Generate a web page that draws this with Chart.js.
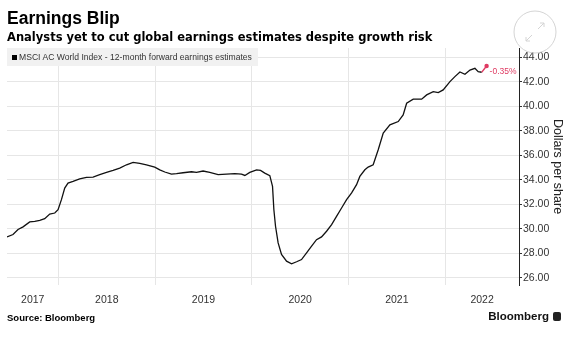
<!DOCTYPE html>
<html>
<head>
<meta charset="utf-8">
<script src="https://cdn.jsdelivr.net/npm/chart.js@4.4.0/dist/chart.umd.min.js"></script>
<style>
  html, body { margin: 0; padding: 0; background: #fff; }
  #wrap { position: relative; width: 577px; height: 337px; overflow: hidden; font-family: 'Liberation Sans', Arial, sans-serif; color: #000; }
  #chart { position: absolute; left: 0; top: 0; }
  .title { position: absolute; left: 7px; top: 10px; font-weight: bold; font-size: 17.5px; line-height: 17.5px; white-space: nowrap; }
  .subtitle { position: absolute; left: 7px; top: 32px; font-family: 'DejaVu Sans', sans-serif; font-weight: bold; font-size: 11.5px; line-height: 11.5px; white-space: nowrap; }
  .legend { position: absolute; left: 7px; top: 48px; width: 251px; height: 18px; background: #f1f1f1; font-size: 8.6px; line-height: 18px; color: #333; white-space: nowrap; }
  .legend i { display: inline-block; width: 5px; height: 5px; background: #000; margin: 0 2px 0 5px; vertical-align: 0; }
  .source { position: absolute; left: 7px; top: 312px; font-weight: bold; font-size: 9.5px; line-height: 12px; white-space: nowrap; }
  .brand { position: absolute; right: 28px; top: 309px; font-weight: bold; font-size: 11.5px; line-height: 14px; color: #111; white-space: nowrap; }
  .brand i { position: absolute; right: -12px; top: 3px; width: 8px; height: 9px; background: #222; border-radius: 2px; }
</style>
</head>
<body>
<div id="wrap">
  <canvas id="chart" width="577" height="337"></canvas>
  <div class="title">Earnings Blip</div>
  <div class="subtitle">Analysts yet to cut global earnings estimates despite growth risk</div>
  <div class="legend"><i></i>MSCI AC World Index - 12-month forward earnings estimates</div>
  <div class="source">Source: Bloomberg</div>
  <div class="brand">Bloomberg<i></i></div>
</div>
<script>
// dates as decimal years (weekly series)
const dates = [2017.468, 2017.530, 2017.582, 2017.634, 2017.703, 2017.755, 2017.807, 2017.858, 2017.910, 2017.962, 2017.996,
  2018.031, 2018.065, 2018.099, 2018.151, 2018.220, 2018.290, 2018.358, 2018.427, 2018.497, 2018.565, 2018.634, 2018.704, 2018.772, 2018.841, 2018.910, 2018.996,
  2019.048, 2019.100, 2019.169, 2019.221, 2019.289, 2019.376, 2019.428, 2019.496, 2019.565, 2019.651, 2019.738, 2019.824, 2019.893, 2019.928, 2019.979,
  2020.049, 2020.090, 2020.134, 2020.186, 2020.214, 2020.228, 2020.245, 2020.272, 2020.307, 2020.359, 2020.411, 2020.463, 2020.514, 2020.566, 2020.618, 2020.669, 2020.721, 2020.773, 2020.825, 2020.876, 2020.928, 2020.980,
  2021.032, 2021.083, 2021.117, 2021.169, 2021.203, 2021.255, 2021.307, 2021.359, 2021.428, 2021.514, 2021.565, 2021.601, 2021.669, 2021.756, 2021.808, 2021.876, 2021.928, 2021.979,
  2022.049, 2022.100, 2022.152, 2022.204, 2022.256, 2022.307, 2022.341, 2022.377, 2022.428];

const estimates = [29.33, 29.52, 29.93, 30.15, 30.55, 30.60, 30.68, 30.82, 31.20, 31.28, 31.55,
  32.37, 33.32, 33.73, 33.86, 34.06, 34.19, 34.22, 34.41, 34.60, 34.76, 34.95, 35.22, 35.41, 35.33, 35.22, 35.03,
  34.81, 34.63, 34.46, 34.49, 34.57, 34.65, 34.60, 34.71, 34.60, 34.41, 34.46, 34.49, 34.46, 34.35, 34.60,
  34.81, 34.76, 34.54, 34.33, 33.45, 31.55, 30.20, 28.84, 27.89, 27.35, 27.13, 27.30, 27.48, 28.03, 28.57, 29.10, 29.33, 29.79, 30.33, 31.01, 31.69, 32.37,
  32.92, 33.60, 34.27, 34.81, 35.03, 35.22, 36.45, 37.81, 38.48, 38.75, 39.30, 40.25, 40.58, 40.58, 40.93, 41.20, 41.12, 41.34,
  42.01, 42.42, 42.80, 42.61, 42.96, 43.10, 42.83, 42.78, 43.29];

const yearLabels = ['2017', '2018', '2019', '2020', '2021', '2022'];
const yTicks = [26, 27, 28, 29, 30, 31, 32, 33, 34, 35, 36, 37, 38, 39, 40, 41, 42, 43, 44];
const changeLabel = '-0.35%';

const xMin = 2017.468, xMax = 2022.763;
const yMin = 25.4, yMax = 44.76;

const RED = '#df3a62';
const GRID = '#e6e6e6';
const FONT = "'Liberation Sans', Arial, sans-serif";
const last = estimates.length - 1;

// red change label next to the last point + expand icon
const extras = {
  id: 'extras',
  afterDatasetsDraw(chart) {
    const ctx = chart.ctx;
    const pt = chart.getDatasetMeta(0).data[last];
    ctx.save();
    ctx.fillStyle = RED;
    ctx.font = '8.5px ' + FONT;
    ctx.textBaseline = 'middle';
    ctx.fillText(changeLabel, pt.x + 3, pt.y + 6);

    // expand icon top right
    ctx.strokeStyle = '#d4d4d4';
    ctx.lineWidth = 1;
    ctx.beginPath();
    ctx.arc(535, 32, 21, 0, Math.PI * 2);
    ctx.stroke();
    ctx.beginPath();
    ctx.moveTo(538, 29); ctx.lineTo(544, 23);
    ctx.moveTo(540, 23); ctx.lineTo(544, 23); ctx.lineTo(544, 27);
    ctx.moveTo(532, 35); ctx.lineTo(526, 41);
    ctx.moveTo(526, 37); ctx.lineTo(526, 41); ctx.lineTo(530, 41);
    ctx.stroke();
    ctx.restore();
  }
};

new Chart(document.getElementById('chart'), {
  type: 'line',
  data: {
    datasets: [{
      data: dates.map((d, i) => ({ x: d, y: estimates[i] })),
      borderColor: '#111',
      borderWidth: 1.3,
      tension: 0,
      pointRadius: ctx => ctx.dataIndex === last ? 2.2 : 0,
      pointBackgroundColor: RED,
      pointBorderWidth: 0,
      segment: {
        borderColor: ctx => ctx.p1DataIndex === last ? RED : undefined
      }
    }]
  },
  options: {
    responsive: false,
    animation: false,
    events: [],
    layout: { padding: { left: 7, top: 48, right: 0, bottom: 0 } },
    plugins: { legend: { display: false }, tooltip: { enabled: false } },
    scales: {
      x: {
        type: 'linear',
        min: xMin,
        max: xMax,
        border: { display: false },
        afterBuildTicks: scale => {
          const ticks = [];
          yearLabels.forEach(y => {
            const yr = +y;
            const lo = Math.max(yr, xMin), hi = Math.min(yr + 1, xMax);
            if (yr > xMin) ticks.push({ value: yr, grid: true, label: '' });
            ticks.push({ value: (lo + hi) / 2, grid: false, label: y });
          });
          scale.ticks = ticks;
        },
        afterFit: scale => { scale.height = 52; },
        grid: {
          drawTicks: false,
          color: ctx => ctx.tick && ctx.tick.grid ? GRID : 'rgba(0,0,0,0)'
        },
        ticks: {
          autoSkip: false,
          maxRotation: 0,
          padding: 9,
          color: '#333',
          font: { family: FONT, size: 10.5 },
          callback: (v, i, ticks) => ticks[i].label
        }
      },
      y: {
        position: 'right',
        min: yMin,
        max: yMax,
        afterBuildTicks: scale => { scale.ticks = yTicks.map(v => ({ value: v })); },
        afterFit: scale => { scale.width = 58; },
        border: { display: true, color: '#222', width: 1 },
        grid: {
          color: ctx => ctx.tick && ctx.tick.value % 2 === 0 ? GRID : 'rgba(0,0,0,0)',
          tickColor: '#333',
          tickLength: 3
        },
        ticks: {
          padding: 1,
          color: '#333',
          font: { family: FONT, size: 10.5 },
          callback: v => v % 2 === 0 ? v.toFixed(2) : ''
        },
        title: {
          display: true,
          text: 'Dollars per share',
          color: '#222',
          font: { family: FONT, size: 12.5 },
          padding: { top: 12, bottom: 0 }
        }
      }
    }
  },
  plugins: [extras]
});
</script>
</body>
</html>
